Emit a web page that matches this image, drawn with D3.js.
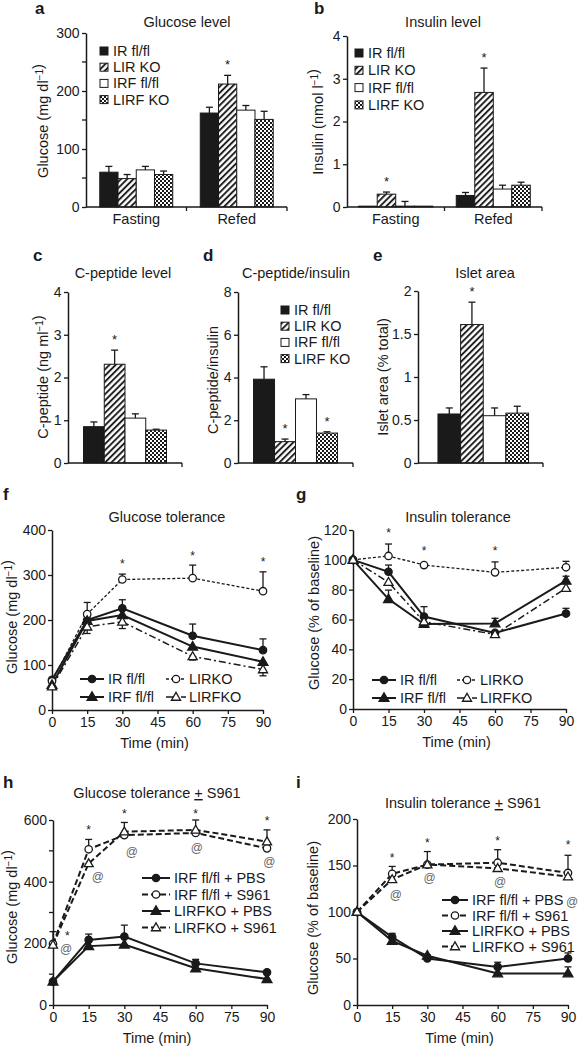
<!DOCTYPE html>
<html><head><meta charset="utf-8">
<script src="https://cdn.jsdelivr.net/npm/d3@7"></script>
<style>
body{margin:0;background:#fff}
text{font-family:"Liberation Sans",Arial,Helvetica,sans-serif;fill:#1a1a1a}
</style>
</head><body>
<svg id="c" width="579" height="1050"></svg>
<script>
// ---------- DATA ----------
const barSeries = ["IR fl/fl","LIR KO","IRF fl/fl","LIRF KO"];
const mealGroups = ["Fasting","Refed"];
const glucoseFasting = [60,49,64,56];
const glucoseFastingErr = [10,7,6,6];
const glucoseRefed = [162,212,167,151];
const glucoseRefedErr = [10,15,8,14];
const insulinFasting = [0.02,0.30,0.02,0.02];
const insulinFastingErr = [0,0.05,0.11,0];
const insulinRefed = [0.27,2.68,0.42,0.51];
const insulinRefedErr = [0.07,0.57,0.09,0.07];
const cpeptide = [0.85,2.31,1.05,0.77];
const cpeptideErr = [0.11,0.33,0.1,0.02];
const cpepInsRatio = [3.92,1.0,3.0,1.4];
const cpepInsRatioErr = [0.58,0.12,0.2,0.06];
const isletArea = [0.57,1.61,0.55,0.58];
const isletAreaErr = [0.07,0.26,0.09,0.08];

const timePoints = [0,15,30,60,90];
const timeTicks = [0,15,30,45,60,75,90];

const gttIR = [67,200,226,165,133];      const gttIRErr = [0,8,19,26,25];
const gttLIRKO = [64,213,290,293,264];   const gttLIRKOErr = [0,26,12,29,43];
const gttIRF = [56,198,211,141,107];     const gttIRFErr = [0,0,0,0,0];
const gttLIRFKO = [52,185,196,119,90];   const gttLIRFKOErr = [0,-15,-15,-8,-14];

const ittIR = [100,92,62,51,64];         const ittIRErr = [0,4.5,6.6,0,3.5];
const ittLIRKO = [100,102.6,96.5,91.6,95]; const ittLIRKOErr = [0,8,0,7,4];
const ittIRF = [100,73.7,57,57.4,86];    const ittIRFErr = [0,6,0,3.4,3];
const ittLIRFKO = [100,85,58.5,50,81];   const ittLIRFKOErr = [0,0,0,0,0];

const gttS_flPBS = [76,211,222,135,106];   const gttS_flPBSErr = [0,19,37,13,5];
const gttS_flS961 = [198,505,551,558,508]; const gttS_flS961Err = [40,32,0,0,0];
const gttS_koPBS = [76,191,196,119,84];    const gttS_koPBSErr = [0,0,0,0,0];
const gttS_koS961 = [195,459,562,568,530]; const gttS_koS961Err = [0,0,30,32,38];

const ittS_flPBS = [100,73,50,41,50];      const ittS_flPBSErr = [0,4,4,5,6];
const ittS_flS961 = [100,141,151,153,142]; const ittS_flS961Err = [0,8,14,14,19];
const ittS_koPBS = [100,69,53,34,34];      const ittS_koPBSErr = [0,0,0,0,7];
const ittS_koS961 = [100,135,151,147,138]; const ittS_koS961Err = [0,0,0,0,0];

const lineLabels1 = ["IR fl/fl","LIRKO","IRF fl/fl","LIRFKO"];
const lineLabels2 = ["IRF fl/fl + PBS","IRF fl/fl + S961","LIRFKO + PBS","LIRFKO + S961"];

// annotation positions in data units (time, value)
const starsF = [[30,327],[60,344],[90,331]];
const starsG = [[15,118.6],[30,106.6],[60,106.6]];
const starsH = [[6,228],[15,571],[30,623],[60,623],[90,600]];
const atsH = [[5.5,182],[18.9,415],[33.2,496],[60.5,509],[91,464]];
const starsI = [[15,159],[30,175],[60,177],[90,173]];
const atsI = [[16.6,118],[31,137],[61,132],[91.7,111]];

// ---------- DRAW ----------
const svg = d3.select("#c");
const INK = "#1a1a1a";
const FS = 14.5;
const defs = svg.append("defs");
const hatch = defs.append("pattern").attr("id","hatch").attr("patternUnits","userSpaceOnUse")
  .attr("width",4.4).attr("height",4.4).attr("patternTransform","rotate(45)");
hatch.append("rect").attr("width",4.4).attr("height",4.4).attr("fill","#fff");
hatch.append("line").attr("x1",1).attr("x2",1).attr("y1",0).attr("y2",4.4).attr("stroke",INK).attr("stroke-width",1.9);
const chk = defs.append("pattern").attr("id","checker").attr("patternUnits","userSpaceOnUse").attr("width",4).attr("height",4);
chk.append("rect").attr("width",4).attr("height",4).attr("fill","#fff");
chk.append("rect").attr("width",2).attr("height",2).attr("fill",INK);
chk.append("rect").attr("x",2).attr("y",2).attr("width",2).attr("height",2).attr("fill",INK);
const barFills = [INK,"url(#hatch)","#fff","url(#checker)"];

function styleAxis(g){
  g.select(".domain").attr("stroke",INK).attr("stroke-width",1.5);
  g.selectAll(".tick line").attr("stroke",INK).attr("stroke-width",1.3);
  g.selectAll(".tick text").attr("font-size",14).attr("fill",INK)
   .attr("font-family",'"Liberation Sans",Arial,sans-serif');
}
function panelLetter(t,x,y){
  svg.append("text").attr("x",x).attr("y",y).attr("font-size",17).attr("font-weight","bold").text(t);
}
function title(parts,x,y){
  const t = svg.append("text").attr("x",x).attr("y",y).attr("text-anchor","middle").attr("font-size",FS);
  parts.forEach(p=>{
    const s = t.append("tspan").text(p.t);
    if(p.u) s.attr("text-decoration","underline");
  });
}
function yLabel(parts,x,cy){
  const t = svg.append("text").attr("transform",`translate(${x},${cy}) rotate(-90)`)
    .attr("text-anchor","middle").attr("font-size",FS).attr("dy","0.35em");
  parts.forEach(p=>{
    if(p.sup){ t.append("tspan").attr("dy",-5).attr("font-size",10).text(p.t); t.append("tspan").attr("dy",5).text(""); }
    else t.append("tspan").text(p.t);
  });
}
const mgdl = [{t:"Glucose (mg dl"},{t:"−1",sup:true},{t:")"}];

function barPanel(c){
  const y = d3.scaleLinear().domain([0,c.ymax]).range([c.yb,c.yt]);
  const gx = d3.scaleBand().domain(c.groups).range([c.x0,c.x1]).paddingInner(c.pi).paddingOuter(c.po).align(c.align||0.5);
  const sx = d3.scaleBand().domain(barSeries).range([0,gx.bandwidth()]);
  const ya = svg.append("g").attr("transform",`translate(${c.x0},0)`)
    .call(d3.axisLeft(y).tickValues(c.ticks).tickFormat(c.fmt||d3.format("")).tickSize(4).tickSizeOuter(0).tickPadding(2.5));
  styleAxis(ya);
  (c.minor||[]).forEach(m=>svg.append("line").attr("x1",c.x0-4).attr("x2",c.x0).attr("y1",y(m)).attr("y2",y(m)).attr("stroke",INK).attr("stroke-width",1.3));
  c.groups.forEach((g,gi)=>{
    const vals=c.values[gi], errs=c.errs[gi];
    barSeries.forEach((s,si)=>{
      const bx = gx(g)+sx(s), bw=sx.bandwidth();
      const top = y(vals[si]);
      svg.append("rect").attr("x",bx).attr("y",top).attr("width",bw).attr("height",c.yb-top)
        .attr("fill",barFills[si]).attr("stroke",INK).attr("stroke-width",1);
      if(errs[si]>0){
        const cx=bx+bw/2, et=y(vals[si]+errs[si]);
        svg.append("line").attr("x1",cx).attr("x2",cx).attr("y1",top).attr("y2",et).attr("stroke",INK).attr("stroke-width",1.3);
        svg.append("line").attr("x1",cx-3.5).attr("x2",cx+3.5).attr("y1",et).attr("y2",et).attr("stroke",INK).attr("stroke-width",1.3);
      }
      if(c.stars && c.stars[gi][si]){
        svg.append("text").attr("x",bx+bw/2).attr("y",y(vals[si]+errs[si])-6).attr("text-anchor","middle").attr("font-size",13).text("*");
      }
    });
    if(c.showGroupLabels){
      svg.append("text").attr("x",gx(g)+gx.bandwidth()/2).attr("y",c.yb+17).attr("text-anchor","middle").attr("font-size",FS).text(g);
    }
  });
  svg.append("line").attr("x1",c.x0).attr("x2",c.x1).attr("y1",c.yb).attr("y2",c.yb).attr("stroke",INK).attr("stroke-width",1.5);
  const n=c.groups.length;
  for(let i=1;i<=n;i++){
    const tx = c.x0+(c.x1-c.x0)*i/n;
    svg.append("line").attr("x1",tx).attr("x2",tx).attr("y1",c.yb).attr("y2",c.yb+4).attr("stroke",INK).attr("stroke-width",1.3);
  }
  if(c.legend){
    barSeries.forEach((s,si)=>{
      const ly=c.legend.y+si*c.legend.dy;
      svg.append("rect").attr("x",c.legend.x).attr("y",ly-4).attr("width",8).attr("height",8)
        .attr("fill",barFills[si]).attr("stroke",INK).attr("stroke-width",1);
      svg.append("text").attr("x",c.legend.x+13).attr("y",ly+5).attr("font-size",FS).text(s);
    });
  }
}

function drawMarker(g,type,filled,cx,cy){
  if(type==="circle"){
    g.append("circle").attr("cx",cx).attr("cy",cy).attr("r",3.7)
      .attr("fill",filled?INK:"#fff").attr("stroke",INK).attr("stroke-width",1.3);
  } else {
    g.append("path").attr("d",d3.symbol().type(d3.symbolTriangle).size(filled?42:36)())
      .attr("transform",`translate(${cx},${cy+0.6})`)
      .attr("fill",filled?INK:"#fff").attr("stroke",INK).attr("stroke-width",1.3);
  }
}

function linePanel(c){
  const x = d3.scaleLinear().domain([0,90]).range([c.x0,c.x1]);
  const y = d3.scaleLinear().domain([0,c.ymax]).range([c.yb,c.yt]);
  const xa = svg.append("g").attr("transform",`translate(0,${c.yb})`)
    .call(d3.axisBottom(x).tickValues(timeTicks).tickSize(4).tickSizeOuter(0).tickPadding(3));
  styleAxis(xa);
  const ya = svg.append("g").attr("transform",`translate(${c.x0},0)`)
    .call(d3.axisLeft(y).tickValues(c.ticks).tickSize(4).tickSizeOuter(0).tickPadding(2));
  styleAxis(ya);
  (c.minor||[]).forEach(m=>svg.append("line").attr("x1",c.x0-4).attr("x2",c.x0).attr("y1",y(m)).attr("y2",y(m)).attr("stroke",INK).attr("stroke-width",1.3));
  svg.append("text").attr("x",(c.x0+c.x1)/2-3).attr("y",c.yb+38).attr("text-anchor","middle").attr("font-size",FS).text("Time (min)");
  const g = svg.append("g");
  c.series.forEach(s=>{
    s.vals.forEach((v,i)=>{
      const e=s.err[i]; if(!e) return;
      const cx=x(timePoints[i]), y1=y(v), y2=y(v+e);
      g.append("line").attr("x1",cx).attr("x2",cx).attr("y1",y1).attr("y2",y2).attr("stroke",INK).attr("stroke-width",1.3);
      g.append("line").attr("x1",cx-3.5).attr("x2",cx+3.5).attr("y1",y2).attr("y2",y2).attr("stroke",INK).attr("stroke-width",1.3);
    });
  });
  const line = d3.line().x((d,i)=>x(timePoints[i])).y(d=>y(d));
  c.series.forEach(s=>{
    g.append("path").attr("d",line(s.vals)).attr("fill","none").attr("stroke",INK)
      .attr("stroke-width",s.w).attr("stroke-dasharray",s.dash||null);
  });
  c.series.forEach(s=>{
    s.vals.forEach((v,i)=>drawMarker(g,s.marker,s.filled,x(timePoints[i]),y(v)));
  });
  (c.stars||[]).forEach(p=>svg.append("text").attr("x",x(p[0])).attr("y",y(p[1])+5).attr("text-anchor","middle").attr("font-size",12).text("*"));
  (c.ats||[]).forEach(p=>svg.append("text").attr("x",x(p[0])).attr("y",y(p[1])+4).attr("text-anchor","middle").attr("font-size",12).style("fill","#666").text("@"));
  c.legend.forEach((L,li)=>{
    const s=c.series[L.si];
    g.append("line").attr("x1",L.x).attr("x2",L.x+L.len).attr("y1",L.y).attr("y2",L.y)
      .attr("stroke",INK).attr("stroke-width",s.w).attr("stroke-dasharray",s.dash||null);
    drawMarker(g,s.marker,s.filled,L.x+L.len/2+(L.mdx||0),L.y);
    svg.append("text").attr("x",L.x+L.len+L.gap).attr("y",L.y+5).attr("font-size",FS).text(c.labels[L.si]);
  });
}

// ---- Panel a ----
panelLetter("a",35,14);
title([{t:"Glucose level"}],187,27);
yLabel(mgdl,43,121);
barPanel({x0:86,x1:287,yb:207,yt:33,ymax:300,ticks:[0,100,200,300],minor:[50,150,250],
  groups:mealGroups,pi:0.274,po:0.137,values:[glucoseFasting,glucoseRefed],errs:[glucoseFastingErr,glucoseRefedErr],
  stars:[[0,0,0,0],[0,1,0,0]],showGroupLabels:true,legend:{x:100,y:51,dy:16.2}});

// ---- Panel b ----
panelLetter("b",314,14);
title([{t:"Insulin level"}],443,27);
yLabel([{t:"Insulin (nmol l"},{t:"−1",sup:true},{t:")"}],318,122);
barPanel({x0:347,x1:542,yb:207,yt:36,ymax:4,ticks:[0,1,2,3,4],
  groups:mealGroups,pi:0.241,po:0.12,values:[insulinFasting,insulinRefed],errs:[insulinFastingErr,insulinRefedErr],
  stars:[[0,1,0,0],[0,1,0,0]],showGroupLabels:true,legend:{x:355,y:53,dy:17.3}});

// ---- Panel c ----
panelLetter("c",33,261);
title([{t:"C-peptide level"}],123,278);
yLabel([{t:"C-peptide (ng ml"},{t:"−1",sup:true},{t:")"}],43,377);
barPanel({x0:68,x1:182,yb:463,yt:292,ymax:4,ticks:[0,1,2,3,4],
  groups:[""],pi:0,po:0.187,values:[cpeptide],errs:[cpeptideErr],stars:[[0,1,0,0]]});

// ---- Panel d ----
panelLetter("d",203,261);
title([{t:"C-peptide/insulin"}],296,278);
yLabel([{t:"C-peptide/insulin"}],213,380);
barPanel({x0:238,x1:353,yb:463,yt:292,ymax:8,ticks:[0,2,4,6,8],
  groups:[""],pi:0,po:0.185,values:[cpepInsRatio],errs:[cpepInsRatioErr],stars:[[0,1,0,1]],
  legend:{x:281,y:310,dy:16.2}});

// ---- Panel e ----
panelLetter("e",373,261);
title([{t:"Islet area"}],485,278);
yLabel([{t:"Islet area (% total)"}],383,377);
barPanel({x0:418,x1:543,yb:463,yt:291,ymax:2,ticks:[0,0.5,1,1.5,2],fmt:d3.format(""),
  groups:[""],pi:0,po:0.19,align:0.58,values:[isletArea],errs:[isletAreaErr],stars:[[0,1,0,0]]});

// ---- Panel f ----
panelLetter("f",3,500);
title([{t:"Glucose tolerance"}],167,522);
yLabel(mgdl,12,617);
linePanel({x0:52,x1:263,yb:710,yt:530,ymax:400,ticks:[0,100,200,300,400],
  labels:lineLabels1,
  series:[
    {vals:gttIR,err:gttIRErr,marker:"circle",filled:true,w:2},
    {vals:gttLIRKO,err:gttLIRKOErr,marker:"circle",filled:false,w:1.3,dash:"3,2"},
    {vals:gttIRF,err:gttIRFErr,marker:"tri",filled:true,w:2},
    {vals:gttLIRFKO,err:gttLIRFKOErr,marker:"tri",filled:false,w:1.5,dash:"7,3,2,3"}],
  stars:starsF,
  legend:[{si:0,x:80,y:679,len:24,gap:4},{si:1,x:166,y:679,len:20,gap:3},
          {si:2,x:80,y:697,len:24,gap:4},{si:3,x:166,y:697,len:20,gap:3}]});

// ---- Panel g ----
panelLetter("g",296,500);
title([{t:"Insulin tolerance"}],458,522);
yLabel([{t:"Glucose (% of baseline)"}],314,613);
linePanel({x0:353,x1:566,yb:709,yt:530,ymax:120,ticks:[0,20,40,60,80,100,120],
  labels:lineLabels1,
  series:[
    {vals:ittIR,err:ittIRErr,marker:"circle",filled:true,w:2},
    {vals:ittLIRKO,err:ittLIRKOErr,marker:"circle",filled:false,w:1.3,dash:"3,2"},
    {vals:ittIRF,err:ittIRFErr,marker:"tri",filled:true,w:2},
    {vals:ittLIRFKO,err:ittLIRFKOErr,marker:"tri",filled:false,w:1.5,dash:"7,3,2,3"}],
  stars:starsG,
  legend:[{si:0,x:372,y:680,len:24,gap:4},{si:1,x:457,y:680,len:20,gap:3},
          {si:2,x:372,y:698,len:24,gap:4},{si:3,x:457,y:698,len:20,gap:3}]});

// ---- Panel h ----
panelLetter("h",3,788);
title([{t:"Glucose tolerance "},{t:"+",u:true},{t:" S961"}],157,798);
yLabel(mgdl,12,907);
linePanel({x0:53,x1:267,yb:1005,yt:820,ymax:600,ticks:[0,200,400,600],minor:[100,300,500],
  labels:lineLabels2,
  series:[
    {vals:gttS_flPBS,err:gttS_flPBSErr,marker:"circle",filled:true,w:2},
    {vals:gttS_flS961,err:gttS_flS961Err,marker:"circle",filled:false,w:2,dash:"6,3"},
    {vals:gttS_koPBS,err:gttS_koPBSErr,marker:"tri",filled:true,w:2},
    {vals:gttS_koS961,err:gttS_koS961Err,marker:"tri",filled:false,w:2,dash:"6,3"}],
  stars:starsH,ats:atsH,
  legend:[{si:0,x:142,y:878,len:28,gap:4},{si:1,x:142,y:894.5,len:28,gap:4},
          {si:2,x:142,y:911,len:28,gap:4},{si:3,x:142,y:927.5,len:28,gap:4}]});

// ---- Panel i ----
panelLetter("i",296,788);
title([{t:"Insulin tolerance "},{t:"+",u:true},{t:" S961"}],463,808);
yLabel([{t:"Glucose (% of baseline)"}],313,918);
linePanel({x0:357,x1:568,yb:1005,yt:819,ymax:200,ticks:[0,50,100,150,200],
  labels:lineLabels2,
  series:[
    {vals:ittS_flPBS,err:ittS_flPBSErr,marker:"circle",filled:true,w:2},
    {vals:ittS_flS961,err:ittS_flS961Err,marker:"circle",filled:false,w:2,dash:"6,3"},
    {vals:ittS_koPBS,err:ittS_koPBSErr,marker:"tri",filled:true,w:2},
    {vals:ittS_koS961,err:ittS_koS961Err,marker:"tri",filled:false,w:2,dash:"6,3"}],
  stars:starsI,ats:atsI,
  legend:[{si:0,x:442,y:900,len:26,gap:4},{si:1,x:442,y:915.5,len:26,gap:4},
          {si:2,x:442,y:931,len:26,gap:4},{si:3,x:442,y:946.5,len:26,gap:4}]});
</script>
</body></html>
